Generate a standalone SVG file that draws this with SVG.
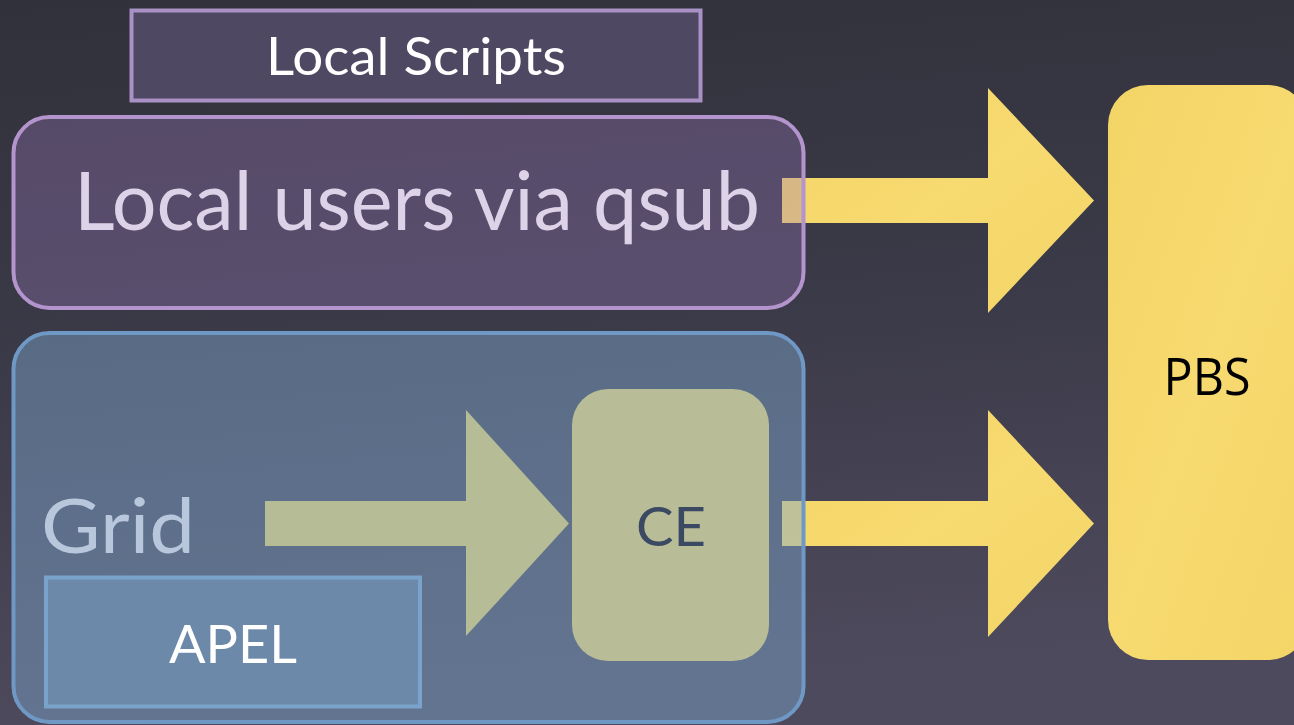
<svg xmlns="http://www.w3.org/2000/svg" width="1294" height="725" viewBox="0 0 1294 725">
  <defs>
    <linearGradient id="bg" x1="0" y1="0" x2="0.15" y2="1">
      <stop offset="0" stop-color="#31313b"/>
      <stop offset="0.5" stop-color="#3b3a48"/>
      <stop offset="1" stop-color="#4e4a5d"/>
    </linearGradient>
    <linearGradient id="yel" x1="0" y1="0" x2="1" y2="1">
      <stop offset="0" stop-color="#f3d466"/>
      <stop offset="0.5" stop-color="#f7da70"/>
      <stop offset="1" stop-color="#f3d567"/>
    </linearGradient>
    <style>
      .gill { font-family: Lato, "Open Sans", "Liberation Sans", sans-serif; }
      .yarrow { fill: url(#yel); }
      .oarrow { fill: #b6bc95; }
    </style>
  </defs>
  <rect x="0" y="0" width="1294" height="725" fill="url(#bg)"/>

  <g id="connectors">
    <path class="yarrow" d="M782,178 L988,178 L988,88 L1094,200.5 L988,313 L988,223 L782,223 Z"/>
    <path class="yarrow" d="M782,501 L988,501 L988,410 L1094,523.5 L988,637 L988,546 L782,546 Z"/>
  </g>

  <g id="local-scripts">
    <rect x="131.5" y="10.5" width="569" height="90" fill="#4f4862" stroke="#a991c6" stroke-width="4"/>
    <text class="gill" x="416" y="75" font-size="52" fill="#ffffff" text-anchor="middle" textLength="300" lengthAdjust="spacingAndGlyphs">Local Scripts</text>
  </g>

  <g id="local-users">
    <rect x="13.5" y="117" width="790" height="191" rx="36" ry="36" fill="#9a78bd" fill-opacity="0.33" stroke="#b394cc" stroke-width="4"/>
    <text class="gill" x="417" y="230" font-size="82" fill="#ddd3e8" text-anchor="middle" textLength="686" lengthAdjust="spacingAndGlyphs">Local users via qsub</text>
  </g>

  <g id="grid">
    <rect x="13.5" y="333" width="790" height="389" rx="36" ry="36" fill="#7ea9d1" fill-opacity="0.45" stroke="#6f98c4" stroke-width="4"/>
    <text class="gill" x="41" y="553" font-size="76" fill="#b8c7db" textLength="154" lengthAdjust="spacingAndGlyphs">Grid</text>
  </g>

  <g id="grid-to-ce">
    <path class="oarrow" d="M265,501 L466,501 L466,410 L569,523.5 L466,636 L466,546 L265,546 Z"/>
  </g>

  <g id="apel">
    <rect x="46" y="577.5" width="374" height="129" fill="#6d89aa" stroke="#7aa3cb" stroke-width="4"/>
    <text class="gill" x="233" y="663" font-size="52" fill="#ffffff" text-anchor="middle" textLength="128" lengthAdjust="spacingAndGlyphs">APEL</text>
  </g>

  <g id="ce">
    <rect x="572" y="389" width="197" height="272" rx="36" ry="36" fill="#b8bd97"/>
    <text class="gill" x="671" y="546" font-size="54" fill="#3b4a62" text-anchor="middle" textLength="70" lengthAdjust="spacingAndGlyphs">CE</text>
  </g>

  <g id="pbs">
    <rect x="1108" y="85" width="200" height="575" rx="40" ry="40" fill="url(#yel)"/>
    <text x="1207" y="395" font-family="'Open Sans', 'DejaVu Sans', sans-serif" font-size="52" fill="#000000" text-anchor="middle" textLength="87" lengthAdjust="spacingAndGlyphs">PBS</text>
  </g>
</svg>
